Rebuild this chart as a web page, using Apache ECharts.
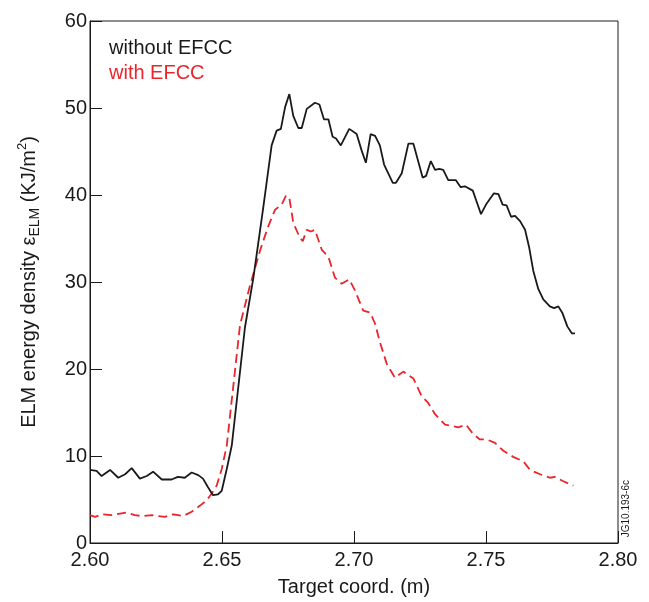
<!DOCTYPE html>
<html>
<head>
<meta charset="utf-8">
<script src="https://cdn.jsdelivr.net/npm/echarts@6/dist/echarts.min.js"></script>
<style>
html,body{margin:0;padding:0;background:#fff;}
#chart{width:649px;height:602px;}
</style>
</head>
<body>
<div id="chart"></div>
<script>
// Data
const withoutX = [2.6000,2.6025,2.6044,2.6076,2.6107,2.6133,2.6158,2.6189,2.6215,2.6239,2.6272,2.6309,2.6333,2.6359,2.6385,2.6410,2.6428,2.6447,2.6466,2.6485,2.6499,2.6518,2.6537,2.6587,2.6619,2.6656,2.6688,2.6707,2.6723,2.6739,2.6755,2.6770,2.6789,2.6802,2.6821,2.6852,2.6869,2.6886,2.6903,2.6919,2.6932,2.6950,2.6982,2.7010,2.7029,2.7045,2.7063,2.7080,2.7098,2.7114,2.7147,2.7159,2.7181,2.7206,2.7225,2.7260,2.7273,2.7291,2.7307,2.7323,2.7338,2.7357,2.7386,2.7404,2.7420,2.7450,2.7465,2.7481,2.7500,2.7530,2.7547,2.7563,2.7578,2.7595,2.7610,2.7629,2.7648,2.7664,2.7679,2.7698,2.7717,2.7742,2.7758,2.7774,2.7790,2.7808,2.7825,2.7837];
const withoutY = [8.4,8.3,7.7,8.4,7.5,7.9,8.6,7.4,7.7,8.2,7.3,7.3,7.6,7.5,8.1,7.8,7.4,6.4,5.5,5.6,6.0,8.5,11.2,24.8,30.5,38.5,45.7,47.4,47.6,50.1,51.6,49.1,47.7,47.7,49.9,50.6,50.4,48.7,48.7,46.7,46.5,45.7,47.6,47.0,45.1,43.7,47.0,46.8,45.7,43.5,41.4,41.4,42.5,45.9,45.9,42.0,42.2,43.9,42.9,43.0,42.9,41.7,41.7,40.9,41.0,40.5,39.2,37.8,38.9,40.2,40.1,38.9,38.8,37.5,37.6,37.0,36.0,33.9,31.3,29.2,28.0,27.2,27.0,27.2,26.4,24.9,24.1,24.1];

const withX = [2.6000,2.6019,2.6044,2.6082,2.6139,2.6170,2.6196,2.6234,2.6284,2.6316,2.6353,2.6385,2.6417,2.6442,2.6461,2.6480,2.6499,2.6518,2.6568,2.6606,2.6644,2.6675,2.6701,2.6726,2.6742,2.6755,2.6770,2.6795,2.6806,2.6821,2.6837,2.6852,2.6878,2.6903,2.6928,2.6953,2.6982,2.7004,2.7035,2.7061,2.7080,2.7098,2.7124,2.7155,2.7187,2.7225,2.7256,2.7281,2.7307,2.7345,2.7395,2.7424,2.7452,2.7477,2.7503,2.7534,2.7566,2.7603,2.7641,2.7667,2.7705,2.7742,2.7761,2.7793,2.7831];
const withY = [3.2,3.0,3.3,3.2,3.5,3.2,3.1,3.2,3.0,3.3,3.1,3.6,4.3,4.9,5.7,6.6,8.5,11.2,25.0,29.6,33.6,36.4,38.3,38.9,39.9,39.7,36.8,35.1,34.7,36.0,35.8,36.0,33.7,32.9,30.5,29.8,30.3,29.0,26.7,26.5,25.2,23.1,20.6,19.0,19.7,18.9,16.9,16.1,14.8,13.6,13.3,13.6,12.5,11.9,11.9,11.5,10.6,9.9,9.4,8.4,7.9,7.5,7.6,7.1,6.6];

const seriesNames = ['without EFCC', 'with EFCC'];
const xTicks = [2.60, 2.65, 2.70, 2.75, 2.80];
const yTicks = [0, 10, 20, 30, 40, 50, 60];

const FONT = '"Liberation Sans", Arial, Helvetica, sans-serif';
const BLACK = '#1a1a1a';
const RED = '#e8262b';

const chart = echarts.init(document.getElementById('chart'), null, {renderer: 'canvas'});
const zip = (xs, ys) => xs.map((x, i) => [x, ys[i]]);

chart.setOption({
  animation: false,
  backgroundColor: '#fff',
  textStyle: {fontFamily: FONT},
  grid: {left: 90, right: 31, top: 21, bottom: 54, show: true, borderColor: BLACK, borderWidth: 1, backgroundColor: 'transparent'},
  legend: {
    orient: 'vertical', left: 99, top: 33, itemGap: 5, itemWidth: 0, itemHeight: 0, icon: 'none',
    selectedMode: false,
    textStyle: {fontSize: 20, fontFamily: FONT},
    data: [
      {name: seriesNames[0], textStyle: {color: BLACK}},
      {name: seriesNames[1], textStyle: {color: RED}}
    ]
  },
  xAxis: {
    type: 'value', min: xTicks[0], max: xTicks[xTicks.length - 1], interval: 0.05,
    name: 'Target coord. (m)', nameLocation: 'middle', nameGap: 34,
    nameTextStyle: {fontSize: 20, color: BLACK, fontFamily: FONT},
    axisLine: {lineStyle: {color: BLACK, width: 1}},
    axisTick: {inside: true, length: 12, lineStyle: {color: BLACK}},
    splitLine: {show: false},
    axisLabel: {fontSize: 20, color: BLACK, margin: 7, fontFamily: FONT, formatter: v => v.toFixed(2)}
  },
  yAxis: {
    type: 'value', min: yTicks[0], max: yTicks[yTicks.length - 1], interval: 10,
    name: 'ELM energy density ε{sub|ELM} (KJ/m{sup|2})', nameLocation: 'middle', nameGap: 48,
    nameTextStyle: {
      fontSize: 20, color: BLACK, fontFamily: FONT, lineHeight: 26,
      rich: {
        sub: {fontSize: 14, color: BLACK, fontFamily: FONT, verticalAlign: 'bottom', lineHeight: 26, padding: [8, 0, 0, 0]},
        sup: {fontSize: 13, color: BLACK, fontFamily: FONT, verticalAlign: 'top', lineHeight: 26, padding: [0, 0, 6, 0]}
      }
    },
    axisLine: {lineStyle: {color: BLACK, width: 1}},
    axisTick: {inside: true, length: 12, lineStyle: {color: BLACK}},
    splitLine: {show: false},
    axisLabel: {fontSize: 20, color: BLACK, margin: 3, fontFamily: FONT}
  },
  series: [
    {
      name: seriesNames[0], type: 'line', data: zip(withoutX, withoutY), showSymbol: false, symbol: 'none',
      lineStyle: {color: BLACK, width: 1.8}, itemStyle: {color: BLACK}, z: 3
    },
    {
      name: seriesNames[1], type: 'line', data: zip(withX, withY), showSymbol: false, symbol: 'none',
      lineStyle: {color: RED, width: 1.8, type: [9, 5]}, itemStyle: {color: RED}, z: 2
    }
  ],
  graphic: [
    {type: 'text', left: 621, top: 480, rotation: Math.PI / 2, originX: 0, originY: 0,
     style: {text: 'JG10.193-6c', fontSize: 10, fill: BLACK, fontFamily: FONT}}
  ]
});
</script>
</body>
</html>
